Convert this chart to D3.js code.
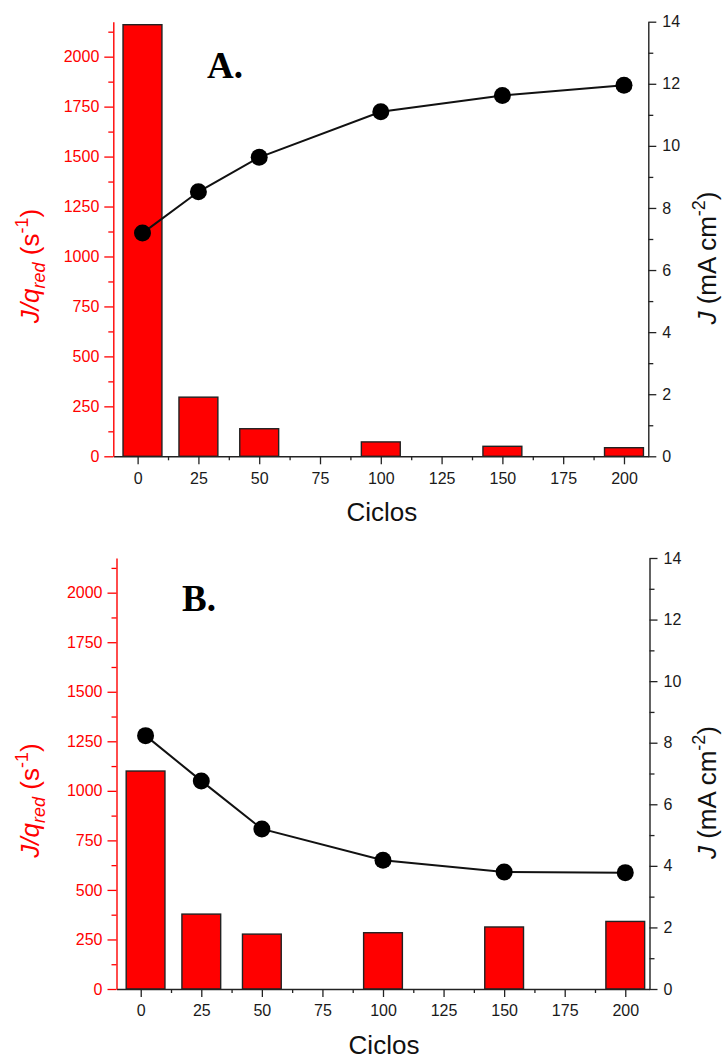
<!DOCTYPE html>
<html>
<head>
<meta charset="utf-8">
<script src="https://cdn.jsdelivr.net/npm/d3@7"></script>
<style>
  body { margin: 0; background: #fff; }
  svg { display: block; }
  text { font-family: "Liberation Sans", Arial, sans-serif; }
</style>
</head>
<body>
<svg id="chart"></svg>
<script>
// Data
const cycles = [2, 25, 50, 100, 150, 200];
const rateA = [2160, 296, 138, 72, 50, 43];          // J/q_red (s^-1), panel A
const currentA = [7.19, 8.52, 9.63, 11.10, 11.62, 11.95]; // J (mA cm^-2), panel A
const rateB = [1100, 378, 277, 284, 313, 341];        // panel B
const currentB = [8.23, 6.76, 5.20, 4.18, 3.80, 3.78];
const xTicks = [0, 25, 50, 75, 100, 125, 150, 175, 200];
const leftTicks = [0, 250, 500, 750, 1000, 1250, 1500, 1750, 2000];
const rightTicks = [0, 2, 4, 6, 8, 10, 12, 14];
const panelLabels = ["A.", "B."];

const width = 725;
const height = 1061;
const barWidth = 16; // in cycles

const svg = d3.select("#chart")
  .attr("width", width)
  .attr("height", height);

const panels = [
  {label: panelLabels[0], rate: rateA, current: currentA,
   left: 113.3, right: 648.3, top: 21.7, bottom: 456.3, labelX: 207, labelY: 78},
  {label: panelLabels[1], rate: rateB, current: currentB,
   left: 116.5, right: 649.5, top: 558, bottom: 989, labelX: 182, labelY: 611}
];

panels.forEach(p => drawPanel(p));

function drawPanel(p) {
  const g = svg.append("g");

  const xScale = d3.scaleLinear().domain([-10, 210]).range([p.left, p.right]);
  const yLeft = d3.scaleLinear().domain([0, 2175]).range([p.bottom, p.top]);
  const yRight = d3.scaleLinear().domain([0, 14]).range([p.bottom, p.top]);

  const data = cycles.map((c, i) => ({c: c, rate: p.rate[i], cur: p.current[i]}));

  // bars
  g.selectAll("rect.bar")
    .data(data)
    .enter()
    .append("rect")
    .attr("class", "bar")
    .attr("x", d => xScale(d.c - barWidth / 2))
    .attr("y", d => yLeft(d.rate))
    .attr("width", d => xScale(d.c + barWidth / 2) - xScale(d.c - barWidth / 2))
    .attr("height", d => yLeft(0) - yLeft(d.rate))
    .attr("fill", "#ff0000")
    .attr("stroke", "#222")
    .attr("stroke-width", 1.4);

  // x axis (minor + major)
  const xMinor = d3.range(12.5, 200, 25);
  g.append("g")
    .attr("transform", "translate(0," + p.bottom + ")")
    .call(d3.axisBottom(xScale).tickValues(xMinor).tickSize(4).tickFormat("").tickSizeOuter(0))
    .call(s => s.select(".domain").remove())
    .call(s => s.selectAll("line").attr("stroke", "#222").attr("stroke-width", 1.3));
  const xAxis = g.append("g")
    .attr("transform", "translate(0," + p.bottom + ")")
    .call(d3.axisBottom(xScale).tickValues(xTicks).tickSize(8).tickPadding(8)
      .tickFormat(d3.format("d")).tickSizeOuter(0));
  xAxis.select(".domain").attr("stroke", "#222").attr("stroke-width", 1.4);
  xAxis.selectAll("line").attr("stroke", "#222").attr("stroke-width", 1.3);
  xAxis.selectAll("text").attr("fill", "#1a1a1a").style("font-size", "16px");

  // left axis (red)
  const leftMinor = d3.range(125, 2175, 250);
  g.append("g")
    .attr("transform", "translate(" + p.left + ",0)")
    .call(d3.axisLeft(yLeft).tickValues(leftMinor).tickSize(5).tickFormat("").tickSizeOuter(0))
    .call(s => s.select(".domain").remove())
    .call(s => s.selectAll("line").attr("stroke", "#ff0000").attr("stroke-width", 1.3));
  const leftAxis = g.append("g")
    .attr("transform", "translate(" + p.left + ",0)")
    .call(d3.axisLeft(yLeft).tickValues(leftTicks).tickSize(9).tickPadding(5)
      .tickFormat(d3.format("d")).tickSizeOuter(0));
  leftAxis.select(".domain").attr("stroke", "#ff0000").attr("stroke-width", 1.4);
  leftAxis.selectAll("line").attr("stroke", "#ff0000").attr("stroke-width", 1.3);
  leftAxis.selectAll("text").attr("fill", "#ff0000").style("font-size", "16px");

  // right axis
  const rightMinor = d3.range(1, 14, 2);
  g.append("g")
    .attr("transform", "translate(" + p.right + ",0)")
    .call(d3.axisRight(yRight).tickValues(rightMinor).tickSize(5).tickFormat("").tickSizeOuter(0))
    .call(s => s.select(".domain").remove())
    .call(s => s.selectAll("line").attr("stroke", "#222").attr("stroke-width", 1.3));
  const rightAxis = g.append("g")
    .attr("transform", "translate(" + p.right + ",0)")
    .call(d3.axisRight(yRight).tickValues(rightTicks).tickSize(8).tickPadding(6)
      .tickFormat(d3.format("d")).tickSizeOuter(0));
  rightAxis.select(".domain").attr("stroke", "#222").attr("stroke-width", 1.4);
  rightAxis.selectAll("line").attr("stroke", "#222").attr("stroke-width", 1.3);
  rightAxis.selectAll("text").attr("fill", "#1a1a1a").style("font-size", "16px");

  // line + dots
  const line = d3.line()
    .x(d => xScale(d.c))
    .y(d => yRight(d.cur));
  g.append("path")
    .datum(data)
    .attr("d", line)
    .attr("fill", "none")
    .attr("stroke", "#111")
    .attr("stroke-width", 2);
  g.selectAll("circle")
    .data(data)
    .enter()
    .append("circle")
    .attr("cx", d => xScale(d.c))
    .attr("cy", d => yRight(d.cur))
    .attr("r", 8.5)
    .attr("fill", "#000");

  // panel label
  g.append("text")
    .attr("x", p.labelX)
    .attr("y", p.labelY)
    .style("font-family", "'Liberation Serif', 'Times New Roman', serif")
    .style("font-weight", "bold")
    .style("font-size", "37px")
    .attr("fill", "#000")
    .text(p.label);

  // x title
  g.append("text")
    .attr("x", (p.left + p.right) / 2 + 1)
    .attr("y", p.bottom + 65)
    .attr("text-anchor", "middle")
    .style("font-size", "26px")
    .attr("fill", "#111")
    .text("Ciclos");

  // left title
  const midY = (p.top + p.bottom) / 2 + 27;
  const lt = g.append("text")
    .attr("transform", "translate(39," + midY + ") rotate(-90)")
    .attr("text-anchor", "middle")
    .style("font-size", "26px")
    .attr("fill", "#ff0000");
  lt.append("tspan").style("font-style", "italic").text("J/q");
  lt.append("tspan").style("font-style", "italic").style("font-size", "18px").attr("dy", 6).text("red");
  lt.append("tspan").attr("dy", -6).text(" (s");
  lt.append("tspan").style("font-size", "18px").attr("dy", -11).text("-1");
  lt.append("tspan").attr("dy", 11).text(")");

  // right title
  const rt = g.append("text")
    .attr("transform", "translate(716," + (midY - 8) + ") rotate(-90)")
    .attr("text-anchor", "middle")
    .style("font-size", "26px")
    .attr("fill", "#111");
  rt.append("tspan").style("font-style", "italic").text("J");
  rt.append("tspan").text(" (mA cm");
  rt.append("tspan").style("font-size", "18px").attr("dy", -11).text("-2");
  rt.append("tspan").attr("dy", 11).text(")");
}
</script>
</body>
</html>
